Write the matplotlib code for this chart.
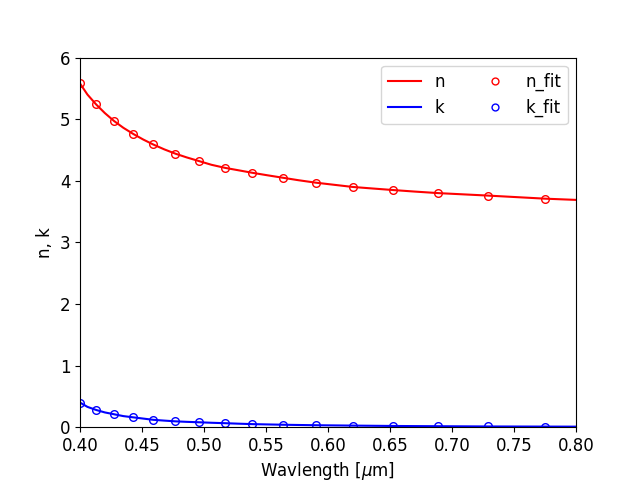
import matplotlib
matplotlib.use("Agg")
import matplotlib.pyplot as plt

# wavelengths of the fitted points (um)
wl_fit = [0.400, 0.413, 0.4275, 0.443, 0.459, 0.477, 0.496, 0.517, 0.539,
          0.5635, 0.590, 0.620, 0.6525, 0.689, 0.729, 0.775]
n_fit = [5.58, 5.24, 4.97, 4.76, 4.59, 4.44, 4.32, 4.21, 4.13,
         4.05, 3.97, 3.90, 3.85, 3.80, 3.76, 3.71]
k_fit = [0.40, 0.28, 0.21, 0.16, 0.12, 0.095, 0.08, 0.065, 0.05,
         0.04, 0.032, 0.026, 0.02, 0.016, 0.012, 0.01]

# continuous curves
wl = [0.400, 0.406, 0.413, 0.420, 0.4275, 0.435, 0.443, 0.451, 0.459, 0.468,
      0.477, 0.486, 0.496, 0.506, 0.517, 0.528, 0.539, 0.551, 0.5635, 0.576,
      0.590, 0.605, 0.620, 0.636, 0.6525, 0.670, 0.689, 0.709, 0.729, 0.752,
      0.775, 0.800]
n = [5.58, 5.40, 5.24, 5.10, 4.97, 4.86, 4.76, 4.67, 4.59, 4.51,
     4.44, 4.38, 4.32, 4.26, 4.21, 4.17, 4.13, 4.09, 4.05, 4.01,
     3.97, 3.935, 3.90, 3.875, 3.85, 3.825, 3.80, 3.78, 3.76, 3.735,
     3.71, 3.69]
k = [0.40, 0.33, 0.28, 0.24, 0.21, 0.18, 0.16, 0.14, 0.12, 0.107,
     0.095, 0.087, 0.08, 0.072, 0.065, 0.057, 0.05, 0.045, 0.04, 0.036,
     0.032, 0.029, 0.026, 0.023, 0.02, 0.018, 0.016, 0.014, 0.012, 0.011,
     0.01, 0.009]

plt.rcParams['font.size'] = 12

fig, ax = plt.subplots(figsize=(6.4, 4.8), dpi=100)
ax.plot(wl, n, 'r-', label='n')
ax.plot(wl, k, 'b-', label='k')
ax.plot(wl_fit, n_fit, 'o', ms=5.5, mfc='none', mec='r', label='n_fit')
ax.plot(wl_fit, k_fit, 'o', ms=5.5, mfc='none', mec='b', label='k_fit')

ax.set_xlim(0.4, 0.8)
ax.set_ylim(0, 6)
ax.set_xlabel(r'Wavlength [$\mu$m]')
ax.set_ylabel('n, k')
ax.legend(ncol=2, loc='upper right', markerscale=0.9)

plt.savefig('out.png')
plt.close()
